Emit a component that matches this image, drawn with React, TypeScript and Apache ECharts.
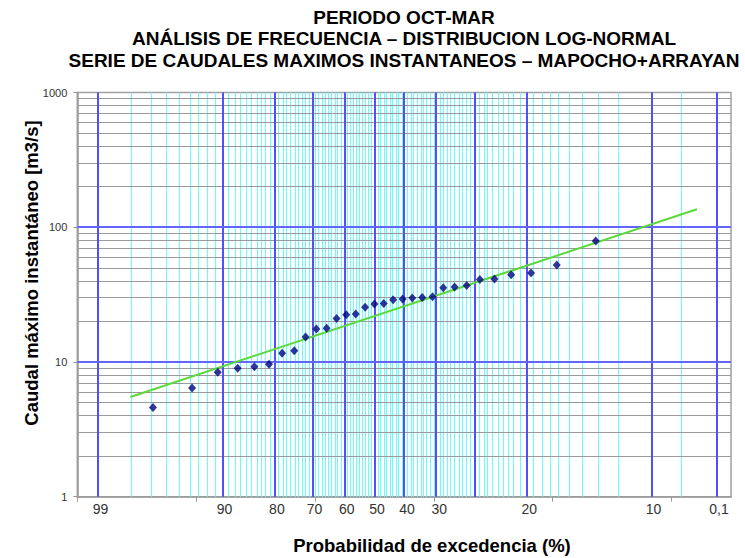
import React, { useEffect, useRef } from "react";
import * as echarts from "echarts";

// ---- data ----
const titleLines = [
  "PERIODO OCT-MAR",
  "ANÁLISIS DE FRECUENCIA – DISTRIBUCION LOG-NORMAL",
  "SERIE DE CAUDALES MAXIMOS INSTANTANEOS – MAPOCHO+ARRAYAN",
];
const xTitle = "Probabilidad de excedencia (%)";
const yTitle = "Caudal máximo instantáneo [m3/s]";

// exceedance probability (%) of each observed value (Weibull positions, n = 31)
const exceedance = [
  96.88, 93.75, 90.63, 87.5, 84.38, 81.25, 78.13, 75.0, 71.88, 68.75, 65.63,
  62.5, 59.38, 56.25, 53.13, 50.0, 46.88, 43.75, 40.63, 37.5, 34.38, 31.25,
  28.13, 25.0, 21.88, 18.75, 15.63, 12.5, 9.38, 6.25, 3.13,
];
// observed instantaneous maximum discharges (m3/s)
const caudal = [
  4.6, 6.4, 8.4, 9.0, 9.2, 9.6, 11.6, 12.1, 15.3, 17.6, 17.8, 21.0, 22.4,
  22.7, 25.5, 26.9, 27.2, 28.9, 29.3, 29.8, 30.1, 30.5, 35.5, 36.0, 37.0,
  41.0, 41.2, 44.4, 45.7, 52.4, 79.0,
];
// fitted log-normal line (end points)
const fitProb = [98, 0.333];
const fitQ = [5.5, 136];

// probability-paper grid
const bluePct = [99, 90, 80, 70, 60, 50, 40, 30, 20, 10, 1, 0.2];
const cyanPct: number[] = [];
for (let p = 2; p <= 98; p++) if (p % 10 !== 0) cyanPct.push(p);
cyanPct.push(0.5);
const grayQ = [2, 3, 4, 5, 6, 7, 8, 9, 20, 30, 40, 50, 60, 70, 80, 90, 200, 300, 400, 500, 600, 700, 800, 900];
const blueQ = [10, 100];

// x tick labels (text and the probability where each sits in the reference)
const xLabelText = ["99", "90", "80", "70", "60", "50", "40", "30", "20", "10", "0,1"];
const xLabelAt = [99, 90, 80, 70, 60, 50, 40, 30, 10, 1, 0.2];
// axis ticks in standard-normal units
const xTickZ = [-2.5, -1.5, -0.5, 0.5, 1.5, 2.5];

// inverse standard normal CDF (Acklam)
function normInv(p: number): number {
  const a = [-3.969683028665376e1, 2.209460984245205e2, -2.759285104469687e2, 1.38357751867269e2, -3.066479806614716e1, 2.506628277459239];
  const b = [-5.447609879822406e1, 1.615858368580409e2, -1.556989798598866e2, 6.680131188771972e1, -1.328068155288572e1];
  const c = [-7.784894002430293e-3, -3.223964580411365e-1, -2.400758277161838, -2.549732539343734, 4.374664141464968, 2.938163982699134];
  const d = [7.784695709041462e-3, 3.224671290700398e-1, 2.445134137142996, 3.754408661907416];
  const plow = 0.02425;
  const phigh = 1 - plow;
  let q: number, r: number;
  if (p < plow) {
    q = Math.sqrt(-2 * Math.log(p));
    return (((((c[0] * q + c[1]) * q + c[2]) * q + c[3]) * q + c[4]) * q + c[5]) / ((((d[0] * q + d[1]) * q + d[2]) * q + d[3]) * q + 1);
  }
  if (p <= phigh) {
    q = p - 0.5;
    r = q * q;
    return ((((((a[0] * r + a[1]) * r + a[2]) * r + a[3]) * r + a[4]) * r + a[5]) * q) / (((((b[0] * r + b[1]) * r + b[2]) * r + b[3]) * r + b[4]) * r + 1);
  }
  q = Math.sqrt(-2 * Math.log(1 - p));
  return -(((((c[0] * q + c[1]) * q + c[2]) * q + c[3]) * q + c[4]) * q + c[5]) / ((((d[0] * q + d[1]) * q + d[2]) * q + d[3]) * q + 1);
}
// exceedance % -> position on the probability axis
const xOf = (pExc: number) => normInv(1 - pExc / 100);

const FONT = "'Liberation Sans', Arial, sans-serif";

export default function App() {
  const ref = useRef<HTMLDivElement>(null);
  useEffect(() => {
    if (!ref.current) return;
    const chart = echarts.init(ref.current, null, { renderer: "svg" });
    const labelZ = xLabelAt.map(xOf);
    const vLine = (vals: number[], color: string, width: number, z: number) => ({
      type: "line",
      data: [],
      z,
      silent: true,
      markLine: {
        silent: true,
        symbol: ["none", "none"],
        label: { show: false },
        emphasis: { disabled: true },
        lineStyle: { color, width, type: "solid" },
        data: vals.map((p) => ({ xAxis: xOf(p) })),
      },
    });
    const hLine = (vals: number[], color: string, width: number, z: number) => ({
      type: "line",
      data: [],
      z,
      silent: true,
      markLine: {
        silent: true,
        symbol: ["none", "none"],
        label: { show: false },
        emphasis: { disabled: true },
        lineStyle: { color, width, type: "solid" },
        data: vals.map((q) => ({ yAxis: q })),
      },
    });
    chart.setOption({
      animation: false,
      backgroundColor: "#ffffff",
      grid: {
        left: 77.3,
        right: 14,
        top: 92.5,
        bottom: 61.3,
        show: true,
        backgroundColor: "#ffffff",
        borderColor: "#a0a0a0",
        borderWidth: 1.5,
      },
      xAxis: {
        type: "value",
        min: -2.5,
        max: 3.0,
        axisLine: { show: true, onZero: false, lineStyle: { color: "#9a9a9a", width: 1.5 } },
        axisTick: { show: true, customValues: xTickZ, length: 5, lineStyle: { color: "#9a9a9a" } },
        axisLabel: {
          customValues: labelZ,
          margin: 5,
          padding: [0, 0, 0, 5],
          fontSize: 14,
          fontFamily: FONT,
          color: "#333333",
          formatter: (v: number) => {
            const i = labelZ.findIndex((z) => Math.abs(z - v) < 1e-6);
            return i >= 0 ? xLabelText[i] : "";
          },
        },
        splitLine: { show: false },
      },
      yAxis: {
        type: "log",
        logBase: 10,
        min: 1,
        max: 1000,
        axisLine: { show: true, onZero: false, lineStyle: { color: "#9a9a9a", width: 1.5 } },
        axisTick: { show: true, length: 4, lineStyle: { color: "#9a9a9a" } },
        axisLabel: {
          fontSize: 11,
          fontFamily: FONT,
          color: "#333333",
          margin: 10,
          formatter: (v: number) => String(Math.round(v)),
        },
        splitLine: { show: false },
      },
      graphic: [
        ...titleLines.map((t, i) => ({
          type: "text",
          x: 404,
          y: 17 + i * 21.5,
          silent: true,
          style: {
            text: t,
            align: "center",
            verticalAlign: "middle",
            font: `bold 19px ${FONT}`,
            fill: "#000000",
          },
        })),
        {
          type: "text",
          x: 432,
          y: 545,
          silent: true,
          style: { text: xTitle, align: "center", verticalAlign: "middle", font: `bold 18.5px ${FONT}`, fill: "#000000" },
        },
        {
          type: "text",
          x: 31,
          y: 273,
          rotation: Math.PI / 2,
          silent: true,
          style: { text: yTitle, align: "center", verticalAlign: "middle", font: `bold 18.5px ${FONT}`, fill: "#000000" },
        },
      ],
      series: [
        vLine(cyanPct, "#66ffff", 1, 1),
        hLine(grayQ, "#9a9a9a", 1, 2),
        vLine(bluePct, "#5050ff", 2, 3),
        hLine(blueQ, "#6464ff", 2, 4),
        {
          type: "line",
          z: 5,
          data: fitProb.map((p, i) => [xOf(p), fitQ[i]]),
          showSymbol: false,
          silent: true,
          lineStyle: { color: "#5cd83a", width: 2 },
        },
        {
          type: "scatter",
          z: 6,
          data: exceedance.map((p, i) => [xOf(p), caudal[i]]),
          symbol: "diamond",
          symbolSize: [8, 9],
          itemStyle: { color: "#00007f" },
        },
      ],
    });
    return () => chart.dispose();
  }, []);
  return <div ref={ref} style={{ width: 745, height: 558, position: "absolute", left: 0, top: 0 }} />;
}
